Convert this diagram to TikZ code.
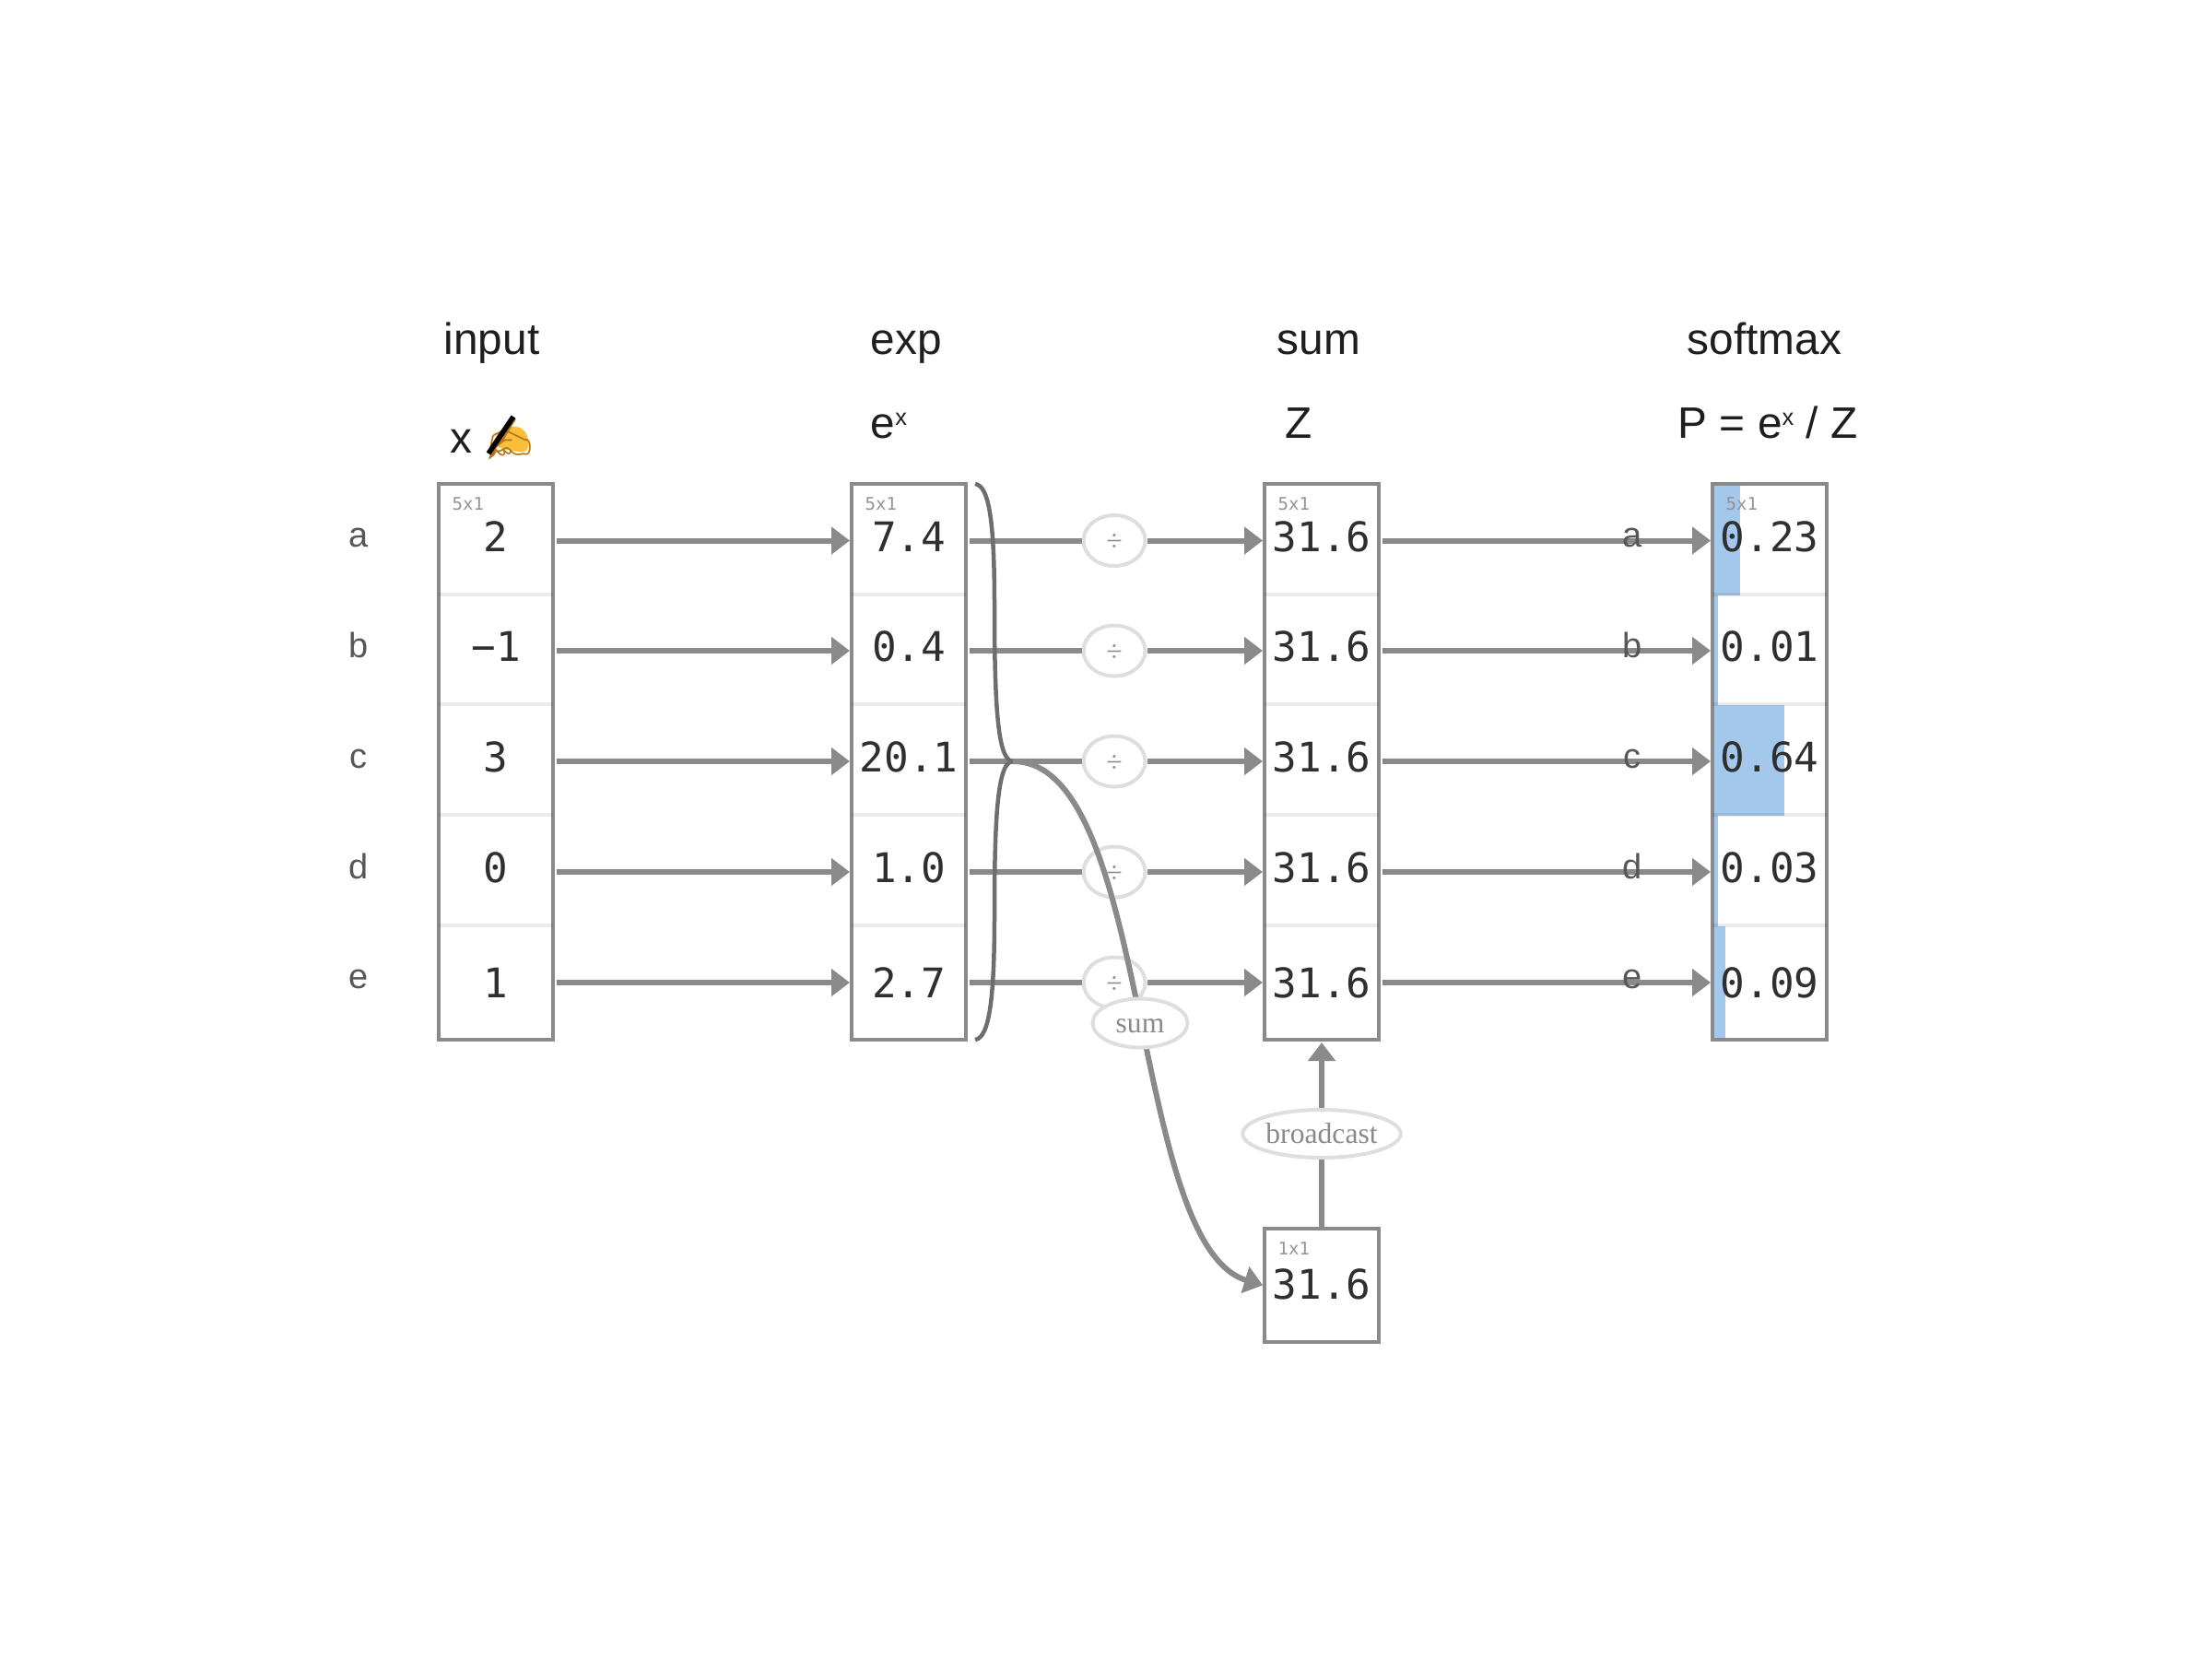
\documentclass[tikz,border=0pt]{standalone}
\usepackage{fontspec}
\usepackage{xcolor}
\usepackage{tikz}
\usetikzlibrary{arrows.meta,positioning,calc,shapes.geometric}
\setmainfont{Liberation Sans}
\setmonofont{DejaVu Sans Mono}
\newfontfamily\serifpill{Liberation Serif}
\newfontfamily\emojifont{Noto Emoji}
\definecolor{boxgrey}{HTML}{8A8A8A}
\definecolor{bracegrey}{HTML}{6E6E6E}
\definecolor{pillgrey}{HTML}{DEDEDE}
\definecolor{inkgrey}{HTML}{2F2F2F}
\definecolor{headink}{HTML}{1E1E1E}
\definecolor{barblue}{HTML}{A4C8EC}
\definecolor{handgold}{HTML}{F9BE3C}
\definecolor{handline}{HTML}{B5761A}
\newcommand{\supx}{\raisebox{1.35mm}{\fontsize{7.2}{8}\selectfont x}}

\begin{document}
\begin{tikzpicture}[
      font=\small,
      vecbox/.style={draw=boxgrey, fill=white, line width=0.45mm, minimum width=12.4mm,
                     inner sep=0pt, outer sep=0pt},
      cell/.style={minimum width=12.4mm, minimum height=11.6mm, inner sep=0pt, outer sep=0pt,
                   text height=3.3mm, text depth=1mm, text=inkgrey,
                   font=\ttfamily\fontsize{12.6}{15}\selectfont},
      lastcell/.style={cell, text height=3.3mm, text depth=0.1mm},
      shapetag/.style={anchor=west, inner sep=0pt, text=black!42,
                       font=\ttfamily\fontsize{5.4}{7}\selectfont},
      head/.style={anchor=base west, inner sep=0pt, text=headink,
                   font=\fontsize{13.6}{16}\selectfont},
      rowlbl/.style={inner sep=0pt, text=black!66, font=\fontsize{10.8}{13}\selectfont},
      pill/.style={draw=pillgrey, fill=white, ellipse, line width=0.4mm, inner sep=0pt,
                   text=boxgrey, font=\serifpill\fontsize{9}{11}\selectfont},
      divpill/.style={pill, minimum width=6.7mm, minimum height=5.5mm,
                      text height=2.4mm, text depth=0.2mm},
      rowline/.style={draw=black, opacity=0.08, line width=0.4mm},
      flow/.style={draw=boxgrey, line width=0.6mm},
      arrowflow/.style={flow, -{Triangle[length=2mm,width=2.9mm]}},
      brace/.style={draw=bracegrey, line width=0.45mm}]

    \useasboundingbox (0mm,0mm) rectangle (240mm,-180mm);

    \node[head] (hinput) at (48.1mm,-38.4mm) {input};
    \node[head] (hexp) at (94.4mm,-38.4mm) {exp};
    \node[head] (hsum) at (138.5mm,-38.4mm) {sum};
    \node[head] (hsoftmax) at (183mm,-38.4mm) {softmax};
    \node[head] (hx) at (48.8mm,-49.1mm) {x};

    % the glyph is only an outline, so the hand and the pen get their colour from behind
    \fill[handgold, rounded corners=1mm] (53.6mm,-47mm) -- (53.7mm,-48.6mm) -- (57.4mm,-49.2mm)
      -- (57.2mm,-46.6mm) -- (55.4mm,-46.1mm) -- cycle;
    \node[head, text=handline, font=\emojifont\fontsize{13}{16}\selectfont] (hpen) at (52.4mm,-49.1mm) {✍};
    \draw[black, line width=0.55mm] (55.7mm,-45.2mm) -- (53mm,-49.2mm);

    \node[head] (hex) at (94.4mm,-47.5mm) {e\supx};
    \node[head] (hz) at (139.4mm,-47.5mm) {Z};
    \node[head] (hp) at (182mm,-47.5mm) {P = e\supx{} / Z};

    \node[rowlbl] (la) at (38.9mm,-58.3mm) {a};
    \node[rowlbl] (lb) at (38.9mm,-70mm) {b};
    \node[rowlbl] (lc) at (38.9mm,-82.3mm) {c};
    \node[rowlbl] (ld) at (38.9mm,-94mm) {d};
    \node[rowlbl] (le) at (38.9mm,-106.2mm) {e};

    \node[vecbox, minimum height=60.3mm] (xbox) at (53.8mm,-82.65mm) {};
    \node[vecbox, minimum height=60.3mm] (ebox) at (98.6mm,-82.65mm) {};
    \node[vecbox, minimum height=60.3mm] (zbox) at (143.4mm,-82.65mm) {};
    \node[vecbox, minimum height=60.3mm] (pbox) at (192mm,-82.65mm) {};
    \node[vecbox, minimum height=12.3mm] (onebox) at (143.4mm,-139.45mm) {};

    % bars sit under the row rules and under the numbers
    \fill[barblue] (186mm,-52.7mm) rectangle (188.8mm,-64.6mm);
    \fill[barblue] (186mm,-64.6mm) rectangle (186.4mm,-76.5mm);
    \fill[barblue] (186mm,-76.5mm) rectangle (193.6mm,-88.5mm);
    \fill[barblue] (186mm,-88.5mm) rectangle (186.4mm,-100.5mm);
    \fill[barblue] (186mm,-100.5mm) rectangle (187.2mm,-112.6mm);

    \node[cell] (xa) at (53.8mm,-58.65mm) {2};
    \node[cell] (xb) at (53.8mm,-70.6mm) {−1};
    \node[cell] (xc) at (53.8mm,-82.6mm) {3};
    \node[cell] (xd) at (53.8mm,-94.6mm) {0};
    \node[lastcell] (xe) at (53.8mm,-106.6mm) {1};

    \node[cell] (ea) at (98.6mm,-58.65mm) {7.4};
    \node[cell] (eb) at (98.6mm,-70.6mm) {0.4};
    \node[cell] (ec) at (98.6mm,-82.6mm) {20.1};
    \node[cell] (ed) at (98.6mm,-94.6mm) {1.0};
    \node[lastcell] (ee) at (98.6mm,-106.6mm) {2.7};

    \node[cell] (za) at (143.4mm,-58.65mm) {31.6};
    \node[cell] (zb) at (143.4mm,-70.6mm) {31.6};
    \node[cell] (zc) at (143.4mm,-82.6mm) {31.6};
    \node[cell] (zd) at (143.4mm,-94.6mm) {31.6};
    \node[lastcell] (ze) at (143.4mm,-106.6mm) {31.6};

    \node[cell] (pa) at (192mm,-58.65mm) {0.23};
    \node[cell] (pb) at (192mm,-70.6mm) {0.01};
    \node[cell] (pc) at (192mm,-82.6mm) {0.64};
    \node[cell] (pd) at (192mm,-94.6mm) {0.03};
    \node[lastcell] (pe) at (192mm,-106.6mm) {0.09};

    \node[cell, text depth=0.4mm] (zone) at (143.4mm,-139.5mm) {31.6};

    \node[shapetag] (tx) at (49mm,-54.7mm) {5x1};
    \node[shapetag] (te) at (93.8mm,-54.7mm) {5x1};
    \node[shapetag] (tz) at (138.6mm,-54.7mm) {5x1};
    \node[shapetag] (tp) at (187.2mm,-54.7mm) {5x1};
    \node[shapetag] (tone) at (138.6mm,-135.5mm) {1x1};

    \draw[rowline] (xa.south west) -- (xa.south east) (xb.south west) -- (xb.south east)
      (xc.south west) -- (xc.south east) (xd.south west) -- (xd.south east);
    \draw[rowline] (ea.south west) -- (ea.south east) (eb.south west) -- (eb.south east)
      (ec.south west) -- (ec.south east) (ed.south west) -- (ed.south east);
    \draw[rowline] (za.south west) -- (za.south east) (zb.south west) -- (zb.south east)
      (zc.south west) -- (zc.south east) (zd.south west) -- (zd.south east);
    \draw[rowline] (pa.south west) -- (pa.south east) (pb.south west) -- (pb.south east)
      (pc.south west) -- (pc.south east) (pd.south west) -- (pd.south east);

    \draw[arrowflow, shorten <=0.4mm, shorten >=0.2mm] (xa.east) -- (ea.west);
    \draw[arrowflow, shorten <=0.4mm, shorten >=0.2mm] (xb.east) -- (eb.west);
    \draw[arrowflow, shorten <=0.4mm, shorten >=0.2mm] (xc.east) -- (ec.west);
    \draw[arrowflow, shorten <=0.4mm, shorten >=0.2mm] (xd.east) -- (ed.west);
    \draw[arrowflow, shorten <=0.4mm, shorten >=0.2mm] (xe.east) -- (ee.west);

    \node[divpill] (da) at (120.9mm,-58.65mm) {÷};
    \node[divpill] (db) at (120.9mm,-70.6mm) {÷};
    \node[divpill] (dc) at (120.9mm,-82.6mm) {÷};
    \node[divpill] (dd) at (120.9mm,-94.6mm) {÷};
    \node[divpill] (de) at (120.9mm,-106.6mm) {÷};

    \draw[flow, shorten <=0.4mm] (ea.east) -- (da.west);
    \draw[flow, shorten <=0.4mm] (eb.east) -- (db.west);
    \draw[flow, shorten <=0.4mm] (ec.east) -- (dc.west);
    \draw[flow, shorten <=0.4mm] (ed.east) -- (dd.west);
    \draw[flow, shorten <=0.4mm] (ee.east) -- (de.west);

    \draw[arrowflow, shorten >=0.2mm] (da.east) -- (za.west);
    \draw[arrowflow, shorten >=0.2mm] (db.east) -- (zb.west);
    \draw[arrowflow, shorten >=0.2mm] (dc.east) -- (zc.west);
    \draw[arrowflow, shorten >=0.2mm] (dd.east) -- (zd.west);
    \draw[arrowflow, shorten >=0.2mm] (de.east) -- (ze.west);

    \draw[arrowflow, shorten <=0.4mm, shorten >=0.2mm] (za.east) -- (pa.west);
    \draw[arrowflow, shorten <=0.4mm, shorten >=0.2mm] (zb.east) -- (pb.west);
    \draw[arrowflow, shorten <=0.4mm, shorten >=0.2mm] (zc.east) -- (pc.west);
    \draw[arrowflow, shorten <=0.4mm, shorten >=0.2mm] (zd.east) -- (pd.west);
    \draw[arrowflow, shorten <=0.4mm, shorten >=0.2mm] (ze.east) -- (pe.west);

    \node[rowlbl] (ra) at (177.1mm,-58.3mm) {a};
    \node[rowlbl] (rb) at (177.1mm,-70mm) {b};
    \node[rowlbl] (rc) at (177.1mm,-82.3mm) {c};
    \node[rowlbl] (rd) at (177.1mm,-94mm) {d};
    \node[rowlbl] (re) at (177.1mm,-106.2mm) {e};

    % the two halves of the brace meet where the sum curve leaves
    \coordinate (join) at (109.9mm,-82.6mm);
    \draw[brace] ([xshift=1mm]ebox.north east) .. controls (107.4mm,-52.7mm) and (107.9mm,-57mm) .. (107.9mm,-66mm)
      .. controls (107.9mm,-77mm) and (108.3mm,-82.6mm) .. (join);
    \draw[brace] ([xshift=1mm]ebox.south east) .. controls (107.4mm,-112.6mm) and (107.9mm,-108mm) .. (107.9mm,-99mm)
      .. controls (107.9mm,-88mm) and (108.3mm,-82.6mm) .. (join);
    \draw[arrowflow, shorten >=0.2mm] (join) .. controls (125mm,-82.6mm) and (122.5mm,-135mm) .. (zone.west);

    \node[pill, minimum width=10.3mm, minimum height=5.3mm, text height=2mm, text depth=0mm] (psum) at (123.7mm,-111mm) {sum};

    \node[pill, minimum width=17.1mm, minimum height=5.2mm] (pbroad) at (143.4mm,-123mm) {broadcast};
    \draw[flow] (onebox.north) -- (pbroad.south);
    \draw[arrowflow, shorten >=0.3mm] (pbroad.north) -- (zbox.south);
  \end{tikzpicture}
\end{document}
